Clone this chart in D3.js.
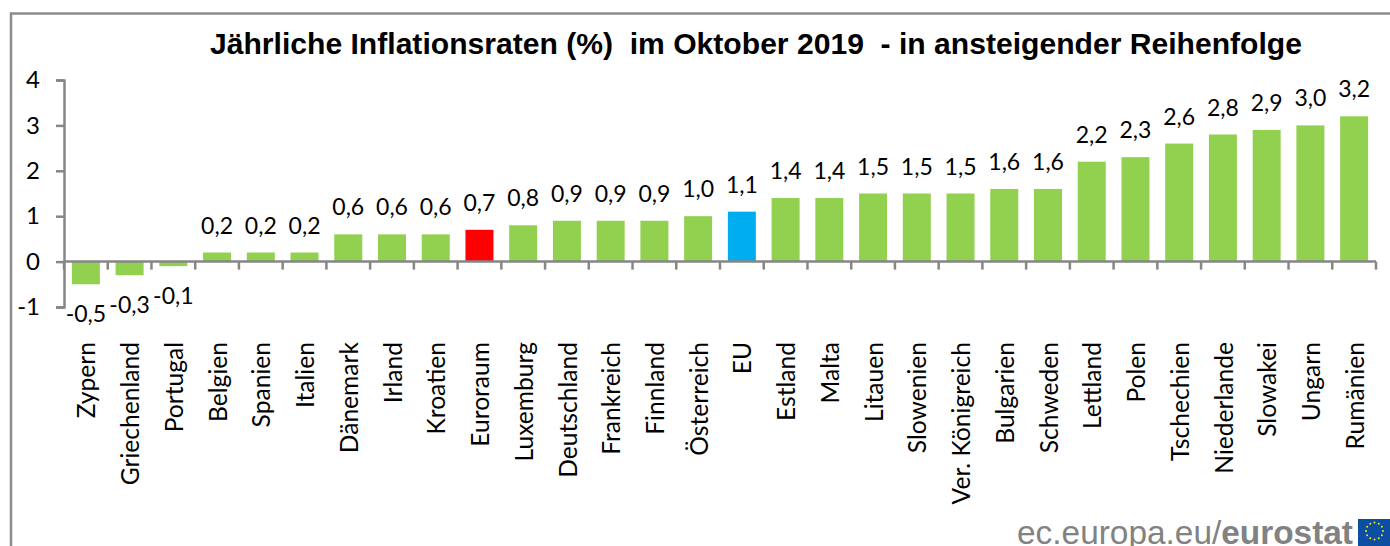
<!DOCTYPE html>
<html>
<head>
<meta charset="utf-8">
<script src="https://cdn.jsdelivr.net/npm/d3@7"></script>
<style>
  html, body { margin: 0; padding: 0; background: #fff; overflow: hidden; }
  svg { display: block; }
  text { fill: #000; }
</style>
</head>
<body>
<svg id="chart" width="1390" height="546"></svg>
<script>
const categories = ["Zypern", "Griechenland", "Portugal", "Belgien", "Spanien", "Italien", "Dänemark", "Irland", "Kroatien", "Euroraum", "Luxemburg", "Deutschland", "Frankreich", "Finnland", "Österreich", "EU", "Estland", "Malta", "Litauen", "Slowenien", "Ver. Königreich", "Bulgarien", "Schweden", "Lettland", "Polen", "Tschechien", "Niederlande", "Slowakei", "Ungarn", "Rumänien"];
const rates = [-0.5, -0.3, -0.1, 0.2, 0.2, 0.2, 0.6, 0.6, 0.6, 0.7, 0.8, 0.9, 0.9, 0.9, 1.0, 1.1, 1.4, 1.4, 1.5, 1.5, 1.5, 1.6, 1.6, 2.2, 2.3, 2.6, 2.8, 2.9, 3.0, 3.2];
const yTicks = [-1, 0, 1, 2, 3, 4];
const titleText = "Jährliche Inflationsraten (%)  im Oktober 2019  - in ansteigender Reihenfolge";

const labelFont = "Lato, 'Open Sans', sans-serif";
const grey = "#868686";

const svg = d3.select("#chart");

// frame runs off the right and bottom of the picture
svg.append("rect")
  .attr("x", 11).attr("y", 13.5)
  .attr("width", 1500).attr("height", 700)
  .attr("fill", "none").attr("stroke", "#8c8c8c").attr("stroke-width", 2.5);

const x = d3.scaleBand().domain(categories).range([64, 1376]).paddingInner(0.36).paddingOuter(0.18);
const y = d3.scaleLinear().domain([-1, 4]).range([307, 80]);

svg.append("text")
  .attr("x", 756).attr("y", 53.5)
  .attr("text-anchor", "middle")
  .attr("font-family", "'Liberation Sans', Arial, sans-serif")
  .attr("font-weight", "bold").attr("font-size", 30.1)
  .attr("xml:space", "preserve").style("white-space", "pre")
  .text(titleText);

function barColor(d) {
  if (d == "Euroraum") return "#ff0000";
  if (d == "EU") return "#00aeef";
  return "#92d050";
}

svg.append("g").selectAll("rect")
  .data(categories)
  .join("rect")
  .attr("x", d => x(d))
  .attr("width", x.bandwidth())
  .attr("y", (d, i) => y(Math.max(0, rates[i])))
  .attr("height", (d, i) => Math.abs(y(rates[i]) - y(0)))
  .attr("fill", barColor);

// value labels, german decimal comma
svg.append("g").selectAll("text")
  .data(categories)
  .join("text")
  .attr("x", d => x(d) + x.bandwidth() / 2)
  .attr("y", (d, i) => rates[i] < 0 ? y(rates[i]) + 30 : y(rates[i]) - 27)
  .attr("dy", "0.35em")
  .attr("text-anchor", "middle")
  .attr("font-family", labelFont).attr("font-size", 23)
  .text((d, i) => rates[i].toFixed(1).replace(".", ","));

const yAxis = svg.append("g")
  .attr("transform", "translate(64,0)")
  .call(d3.axisLeft(y).tickValues(yTicks).tickSize(8).tickPadding(16).tickFormat(d => String(d)));
yAxis.selectAll("path, line").attr("stroke", grey).attr("stroke-width", 2.5);
yAxis.selectAll("text").attr("font-family", labelFont).attr("font-size", 24).style("fill", "#000");

// zero line with ticks between the bands
const step = x.step();
const boundaries = d3.range(categories.length + 1).map(i => x(categories[0]) - step * 0.18 + i * step);
svg.append("line")
  .attr("x1", 64).attr("x2", 1376)
  .attr("y1", y(0)).attr("y2", y(0))
  .attr("stroke", grey).attr("stroke-width", 2.5);
svg.append("g").selectAll("line")
  .data(boundaries)
  .join("line")
  .attr("x1", d => d).attr("x2", d => d)
  .attr("y1", y(0)).attr("y2", y(0) + 8)
  .attr("stroke", grey).attr("stroke-width", 2.5);

svg.append("g").selectAll("text")
  .data(categories)
  .join("text")
  .attr("transform", d => `translate(${x(d) + x.bandwidth() / 2 + 1},342) rotate(-90)`)
  .attr("dy", "0.35em")
  .attr("text-anchor", "end")
  .attr("font-family", labelFont).attr("font-size", 24.6)
  .text(d => d);

// source line
const logo = svg.append("text")
  .attr("x", 1353).attr("y", 544)
  .attr("text-anchor", "end")
  .attr("font-family", "'Liberation Sans', Arial, sans-serif")
  .attr("font-size", 33.4).style("fill", "#828282");
logo.append("tspan").text("ec.europa.eu/").style("fill", "#828282");
logo.append("tspan").attr("font-weight", "bold").text("eurostat").style("fill", "#828282");

// eu flag
svg.append("rect").attr("x", 1358).attr("y", 519).attr("width", 32).attr("height", 27).attr("fill", "#0b4ea2");
svg.append("g").selectAll("circle")
  .data(d3.range(12))
  .join("circle")
  .attr("cx", d => 1374.5 + 8.5 * Math.sin(d * Math.PI / 6))
  .attr("cy", d => 531 - 8.5 * Math.cos(d * Math.PI / 6))
  .attr("r", 1)
  .attr("fill", "#ffe600");
</script>
</body>
</html>
